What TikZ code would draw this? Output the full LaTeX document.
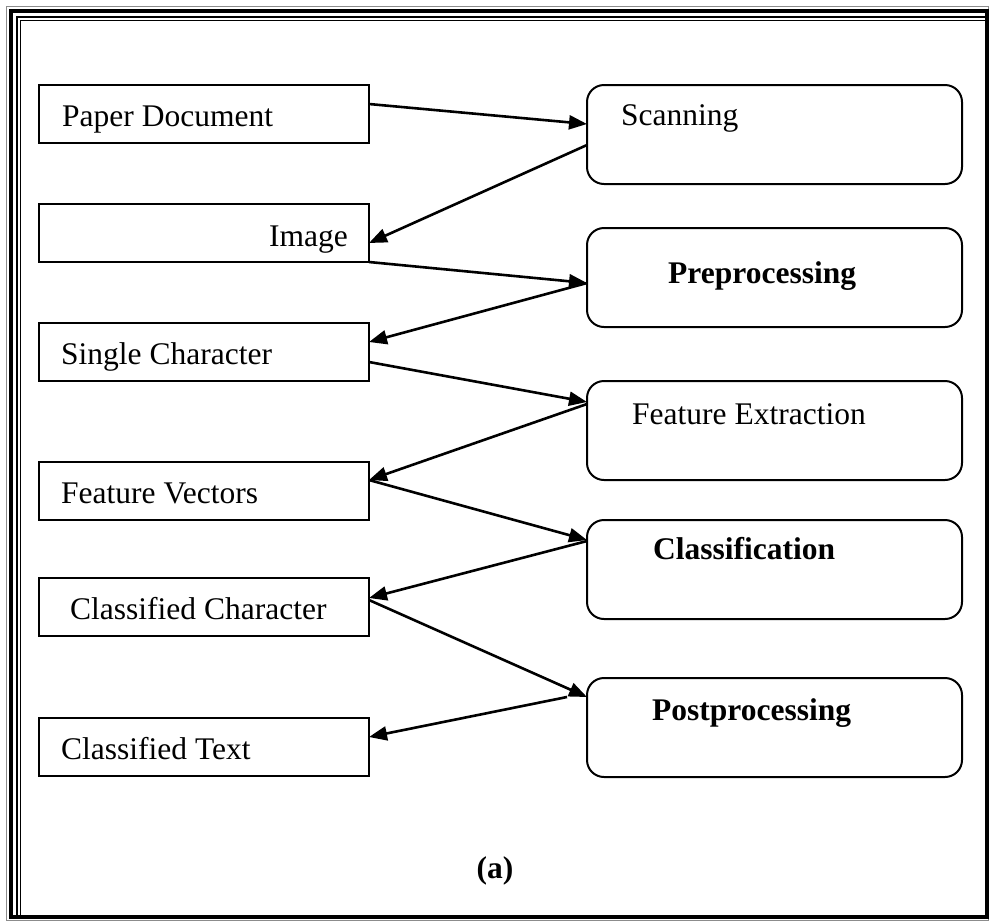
\documentclass[tikz,border=0pt]{standalone}
\usepackage{fontspec}
\setmainfont{Liberation Serif}
\usetikzlibrary{arrows.meta}
\begin{document}
\begin{tikzpicture}[x=1pt,y=-1pt,
 lbox/.style={draw, line width=2pt, minimum width=330pt, minimum height=58pt, anchor=north west, inner sep=0pt, outer sep=0pt},
 rbox/.style={draw, line width=2pt, rounded corners=17pt, minimum width=375pt, minimum height=99pt, anchor=north west, inner sep=0pt, outer sep=0pt},
 txt/.style={anchor=base west, inner sep=0pt, font=\fontsize{31.5}{36}\selectfont},
 btxt/.style={txt, font=\fontsize{31.5}{36}\selectfont\bfseries},
 conn/.style={line width=2.6pt, -{Triangle[length=18pt,width=14pt]}}]
\useasboundingbox (0,0) rectangle (990,922);
% frame
\draw[black!45, line width=1.2pt] (6.5,6.5) rectangle (988.5,920.5);
\draw[line width=4pt] (11,11) rectangle (986.5,916.5);
\draw[line width=2pt] (16.5,16.5) rectangle (986.5,916.5);
\draw[line width=1.6pt] (20.5,20.5) rectangle (986.5,916.5);
% left boxes
\node[lbox] (pd) at (39,85) {};
\node[lbox] (im) at (39,204) {};
\node[lbox] (sch) at (39,323) {};
\node[lbox] (fv) at (39,462) {};
\node[lbox] (cc) at (39,578) {};
\node[lbox] (ct) at (39,718) {};
% right boxes
\node[rbox] (sc) at (587,85) {};
\node[rbox] (pp) at (587,228) {};
\node[rbox] (fe) at (587,381) {};
\node[rbox] (cl) at (587,520) {};
\node[rbox] (po) at (587,678) {};
% texts
\node[txt] (pdt) at (62,126) {Paper Document};
\node[txt, anchor=base east] (imt) at (348,246) {Image};
\node[txt] (scht) at (61,364) {Single Character};
\node[txt] (fvt) at (61,503) {Feature Vectors};
\node[txt] (cct) at (70,619) {Classified Character};
\node[txt] (ctt) at (61,759) {Classified Text};
\node[txt] (sct) at (621,125) {Scanning};
\node[btxt] (ppt) at (668,283) {Preprocessing};
\node[txt] (fet) at (632,424) {Feature Extraction};
\node[btxt] (clt) at (653,559) {Classification};
\node[btxt] (pot) at (652,720) {Postprocessing};
\node[btxt, anchor=base] (cap) at (495,878) {(a)};
% connectors
\draw[conn] ([yshift=-19pt]pd.north east) -- ([yshift=-39pt]sc.north west);
\draw[conn] ([yshift=-60pt]sc.north west) -- ([yshift=-39pt]im.north east);
\draw[conn] (im.south east) -- ([yshift=-55pt]pp.north west);
\draw[conn] ([yshift=-55pt]pp.north west) -- ([yshift=-19pt]sch.north east);
\draw[conn] ([yshift=-39pt]sch.north east) -- ([yshift=-21pt]fe.north west);
\draw[conn] ([yshift=-23pt]fe.north west) -- ([yshift=-18pt]fv.north east);
\draw[conn] ([yshift=-18pt]fv.north east) -- ([yshift=-20pt]cl.north west);
\draw[conn] ([yshift=-21pt]cl.north west) -- ([yshift=-20pt]cc.north east);
\draw[conn] ([yshift=-22pt]cc.north east) -- ([yshift=-19pt]po.north west);
\draw[conn] ([xshift=-20pt,yshift=-19pt]po.north west) -- ([yshift=-19pt]ct.north east);
\end{tikzpicture}
\end{document}
